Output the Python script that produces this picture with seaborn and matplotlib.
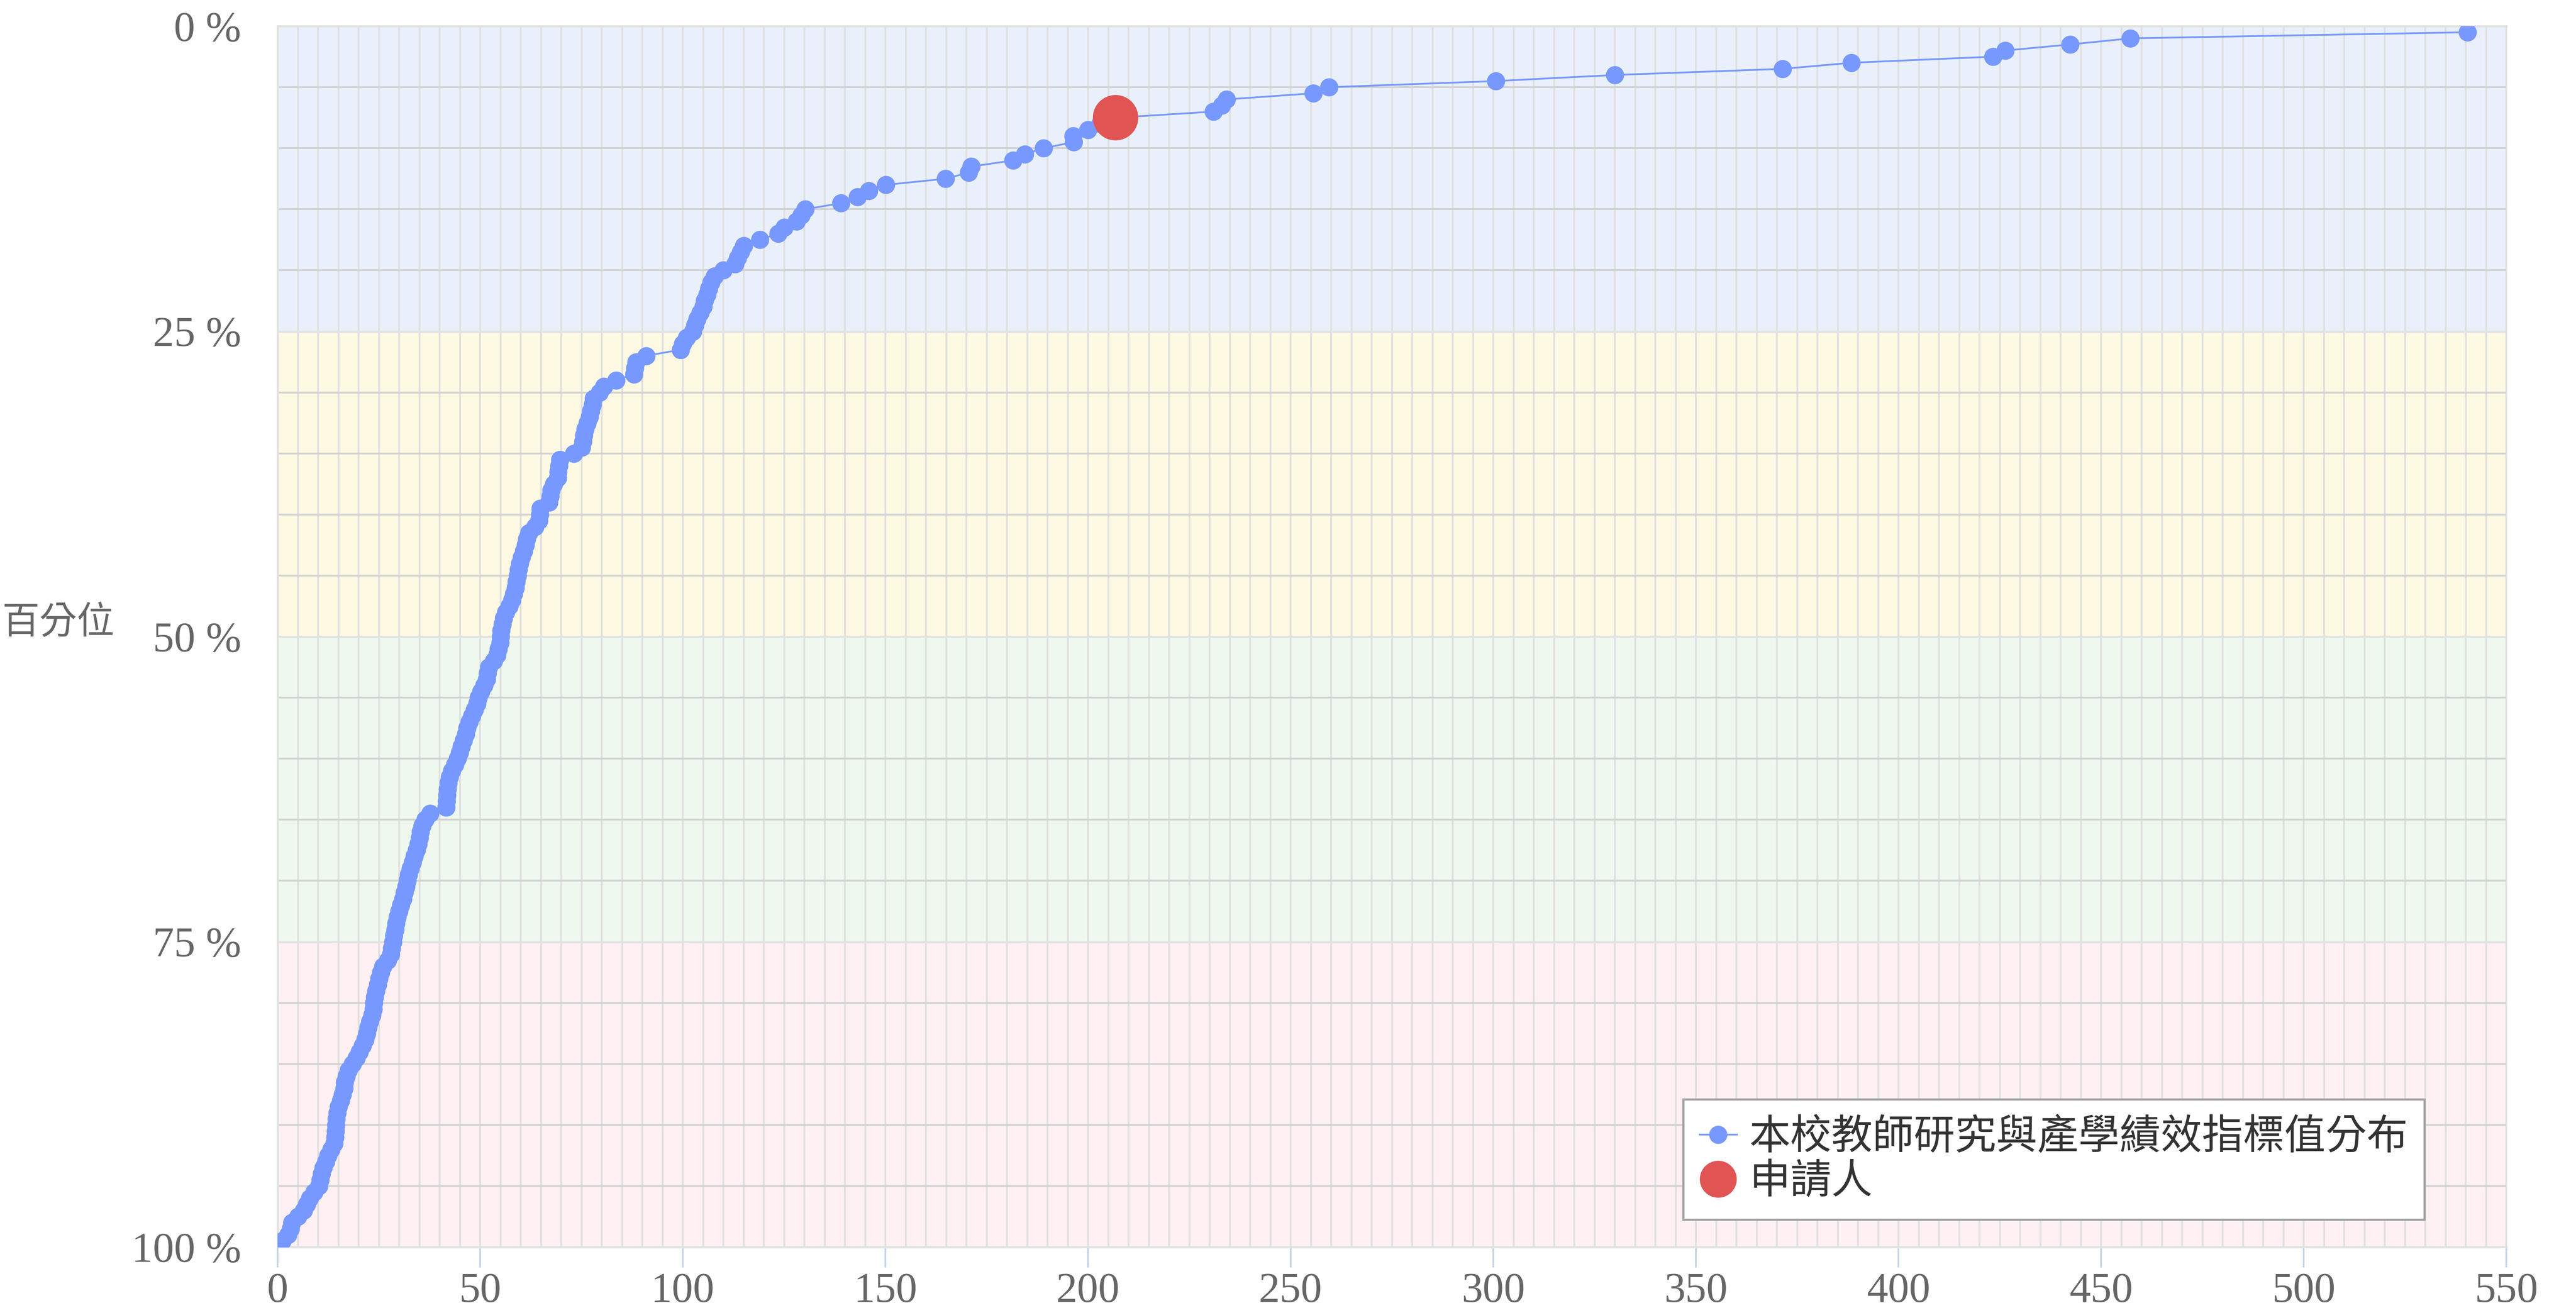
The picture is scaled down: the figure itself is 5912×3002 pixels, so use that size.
import matplotlib
matplotlib.use("Agg")
import matplotlib.pyplot as plt
import seaborn as sns
from matplotlib.ticker import MultipleLocator, FixedLocator
from matplotlib.lines import Line2D
from matplotlib.font_manager import FontProperties

# ---------------- data ----------------
series_label = "本校教師研究與產學績效指標值分布"
applicant_label = "申請人"
y_axis_label = "百分位"

# indicator values, sorted from highest (top) to lowest (bottom)
indicator_values = [
    540.4, 457.2, 442.4, 426.3, 423.3, 388.4, 371.4, 330.0, 300.6, 259.5,
    255.6, 234.2, 233.0, 231.0, 206.8, 203.0, 200.0, 196.3, 196.4, 189.0,
    184.4, 181.5, 171.2, 170.5, 164.8, 150.1, 145.9, 143.1, 139.0, 130.2,
    129.2, 128.1, 125.0, 123.5, 119.0, 115.0, 114.3, 113.5, 112.9, 110.0,
    107.9, 107.0, 106.4, 106.0, 105.4, 105.0, 104.3, 103.5, 103.0, 102.5,
    101.0, 100.0, 99.5, 91.0, 88.5, 88.2, 88.0, 83.5, 80.5, 79.5,
    78.0, 77.7, 77.3, 77.0, 76.5, 75.9, 75.6, 75.4, 75.0, 73.1,
    69.7, 69.5, 69.3, 69.1, 68.2, 67.5, 67.3, 67.0, 64.8, 64.7,
    64.5, 63.5, 62.0, 61.5, 61.2, 60.7, 60.2, 59.8, 59.5, 59.2,
    58.9, 58.7, 58.3, 57.8, 57.2, 56.3, 55.8, 55.5, 55.2, 55.1,
    54.9, 54.5, 54.2, 53.3, 52.2, 51.8, 51.6, 51.0, 50.2, 49.6,
    49.2, 48.6, 48.0, 47.3, 46.8, 46.4, 45.9, 45.4, 44.9, 44.4,
    43.8, 43.0, 42.5, 42.2, 41.9, 41.8, 41.7, 41.6, 37.6, 36.5,
    35.7, 35.3, 35.0, 34.7, 34.3, 33.8, 33.3, 32.8, 32.4, 32.0,
    31.7, 31.3, 31.0, 30.4, 30.0, 29.6, 29.2, 29.0, 28.7, 28.5,
    28.2, 28.0, 27.2, 26.0, 25.5, 25.0, 24.7, 24.3, 24.0, 23.8,
    23.7, 23.3, 22.8, 22.4, 22.0, 21.6, 21.0, 20.2, 19.5, 18.5,
    17.5, 17.0, 16.6, 16.4, 16.0, 15.6, 15.1, 14.7, 14.5, 14.4,
    14.3, 14.2, 14.0, 13.2, 12.5, 11.9, 11.3, 10.9, 10.5, 10.2,
    9.0, 8.0, 7.2, 6.5, 5.0, 3.5, 3.2, 2.6, 1.2, 0.0,
]

# percentile rank of each value (%)
percentiles = [
    0.5, 1.0, 1.5, 2.0, 2.5, 3.0, 3.5, 4.0, 4.5, 5.0,
    5.5, 6.0, 6.5, 7.0, 7.5, 8.0, 8.5, 9.0, 9.5, 10.0,
    10.5, 11.0, 11.5, 12.0, 12.5, 13.0, 13.5, 14.0, 14.5, 15.0,
    15.5, 16.0, 16.5, 17.0, 17.5, 18.0, 18.5, 19.0, 19.5, 20.0,
    20.5, 21.0, 21.5, 22.0, 22.5, 23.0, 23.5, 24.0, 24.5, 25.0,
    25.5, 26.0, 26.5, 27.0, 27.5, 28.0, 28.5, 29.0, 29.5, 30.0,
    30.5, 31.0, 31.5, 32.0, 32.5, 33.0, 33.5, 34.0, 34.5, 35.0,
    35.5, 36.0, 36.5, 37.0, 37.5, 38.0, 38.5, 39.0, 39.5, 40.0,
    40.5, 41.0, 41.5, 42.0, 42.5, 43.0, 43.5, 44.0, 44.5, 45.0,
    45.5, 46.0, 46.5, 47.0, 47.5, 48.0, 48.5, 49.0, 49.5, 50.0,
    50.5, 51.0, 51.5, 52.0, 52.5, 53.0, 53.5, 54.0, 54.5, 55.0,
    55.5, 56.0, 56.5, 57.0, 57.5, 58.0, 58.5, 59.0, 59.5, 60.0,
    60.5, 61.0, 61.5, 62.0, 62.5, 63.0, 63.5, 64.0, 64.5, 65.0,
    65.5, 66.0, 66.5, 67.0, 67.5, 68.0, 68.5, 69.0, 69.5, 70.0,
    70.5, 71.0, 71.5, 72.0, 72.5, 73.0, 73.5, 74.0, 74.5, 75.0,
    75.5, 76.0, 76.5, 77.0, 77.5, 78.0, 78.5, 79.0, 79.5, 80.0,
    80.5, 81.0, 81.5, 82.0, 82.5, 83.0, 83.5, 84.0, 84.5, 85.0,
    85.5, 86.0, 86.5, 87.0, 87.5, 88.0, 88.5, 89.0, 89.5, 90.0,
    90.5, 91.0, 91.5, 92.0, 92.5, 93.0, 93.5, 94.0, 94.5, 95.0,
    95.5, 96.0, 96.5, 97.0, 97.5, 98.0, 98.5, 99.0, 99.5, 100.0,
]

applicant_value = [206.8]
applicant_percentile = [7.5]

x_ticks = [0, 50, 100, 150, 200, 250, 300, 350, 400, 450, 500, 550]
y_ticks = [0, 25, 50, 75, 100]
y_tick_labels = ["0 %", "25 %", "50 %", "75 %", "100 %"]

band_edges = [0, 25, 50, 75, 100]
band_colors = ["#EAF0FB", "#FEF9E3", "#EFF8EE", "#FEF0F3"]

# ---------------- styling ----------------
BLUE = "#7799FF"
RED = "#E05454"
TICK_GREY = "#666666"

W, H, DPI = 5912, 3002, 100
fig = plt.figure(figsize=(W / DPI, H / DPI), dpi=DPI)
fig.patch.set_facecolor("white")

left_px, right_px, top_px, bottom_px = 637, 5752, 60, 2862
ax = fig.add_axes([left_px / W, 1 - bottom_px / H,
                   (right_px - left_px) / W, (bottom_px - top_px) / H])
ax.set_facecolor("white")

# background bands
for i, c in enumerate(band_colors):
    ax.axhspan(band_edges[i], band_edges[i + 1], color=c, zorder=0, lw=0)

# data
sns.lineplot(x=indicator_values, y=percentiles, sort=False, estimator=None,
             color=BLUE, linewidth=2.9, marker="o", markersize=30,
             markeredgewidth=0, ax=ax, legend=False, zorder=3)
sns.scatterplot(x=applicant_value, y=applicant_percentile, s=75 ** 2,
                color=RED, linewidth=0, edgecolor="none", ax=ax,
                legend=False, zorder=5)

ax.set_xlim(0, 550)
ax.set_ylim(100, 0)

# ticks & grid
ax.xaxis.set_major_locator(FixedLocator(x_ticks))
ax.xaxis.set_minor_locator(MultipleLocator(5))
ax.yaxis.set_major_locator(FixedLocator(y_ticks))
ax.yaxis.set_minor_locator(MultipleLocator(5))
ax.set_yticklabels(y_tick_labels)
ax.set_xticklabels([str(v) for v in x_ticks])

ax.set_axisbelow(True)
ax.grid(True, axis="x", which="both", color="#E0E0E0", linewidth=3.0, zorder=1)
ax.grid(True, axis="y", which="minor", color="#D2D2D2", linewidth=3.0, zorder=1)
ax.grid(True, axis="y", which="major", color="#E3E3E3", linewidth=3.6, zorder=1)
for gl in ax.get_xgridlines() + ax.get_ygridlines():
    gl.set_zorder(1)
for gl in ax.xaxis.get_minorticklines():
    pass

ax.tick_params(axis="x", which="major", length=34, width=2.9,
               color="#C8D4E8", pad=8, labelsize=70, labelcolor=TICK_GREY)
ax.tick_params(axis="x", which="minor", length=0)
ax.tick_params(axis="y", which="both", length=0, pad=60,
               labelsize=70, labelcolor=TICK_GREY)
for lab in ax.get_xticklabels() + ax.get_yticklabels():
    lab.set_family(["Liberation Serif", "DejaVu Serif"])

for side in ["left", "bottom", "right", "top"]:
    ax.spines[side].set_color("#E2E2E2")
    ax.spines[side].set_linewidth(3.6)
ax.spines["right"].set_linewidth(2.0)

ax.set_xlabel("")
ax.set_ylabel("")

# y axis title (horizontal, left)
fig.text(4 / W, 1 - 1430 / H, y_axis_label, ha="left", va="center",
         fontsize=62, color=TICK_GREY,
         family=["Noto Sans CJK TC", "DejaVu Sans"])

# legend
handles = [
    Line2D([], [], color=BLUE, lw=2.9, marker="o", markersize=30, mew=0),
    Line2D([], [], color=RED, ls="none", marker="o", markersize=61, mew=0),
]
leg = ax.legend(handles, [series_label, applicant_label],
                loc="upper left", bbox_to_anchor=(3863 / W, 1 - 2523 / H),
                bbox_transform=fig.transFigure,
                prop=FontProperties(family=["Noto Sans CJK TC", "DejaVu Sans"], size=68),
                frameon=True, fancybox=False, shadow=False,
                edgecolor="#A0A0A0", facecolor="white", framealpha=1,
                borderpad=0.4, handlelength=0.9, handletextpad=0.3,
                labelspacing=0.05, borderaxespad=0)
leg.get_frame().set_linewidth(3.5)
leg.set_zorder(10)
for t in leg.get_texts():
    t.set_color("#333333")

fig.savefig("out.png", dpi=DPI, facecolor="white")
